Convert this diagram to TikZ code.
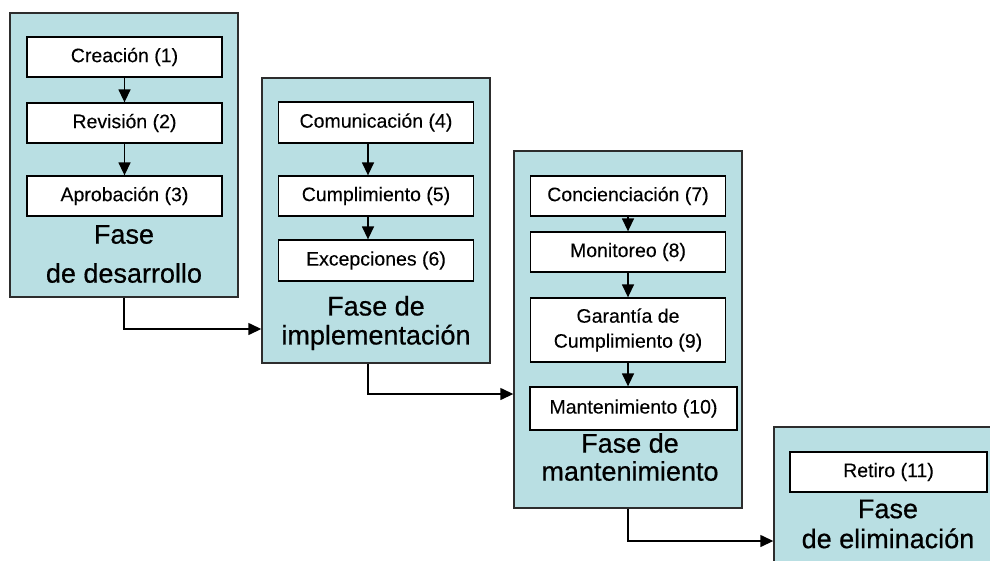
\documentclass[tikz,border=0pt]{standalone}
\usepackage{fontspec}
\setmainfont{Liberation Sans}
\newfontfamily\heavyfont{Liberation Sans}[FakeBold=0.6]
\newfontfamily\stepfont{Liberation Sans}[FakeBold=0.15]
\usetikzlibrary{arrows.meta}
\definecolor{phasefill}{RGB}{185,223,227}
\definecolor{phaseline}{RGB}{45,45,45}
\tikzset{
  phase/.style={draw=phaseline, line width=1.4pt, fill=phasefill, inner sep=0pt},
  stepbox/.style={draw=black, line width=1.3pt, fill=white, inner sep=0pt,
    minimum width=195pt, minimum height=40pt, align=center,
    font=\stepfont\fontsize{19.5}{24}\selectfont},
  title/.style={align=center, inner sep=0pt},
  arr/.style={draw=black, line width=1.4pt, -{Triangle[length=13pt,width=12pt]}},
  link/.style={draw=black, line width=1.4pt, -{Triangle[length=13pt,width=12pt]}}
}
\begin{document}
\begin{tikzpicture}[x=1pt,y=-1pt]
\useasboundingbox (0,0) rectangle (990,560);
% phases
\node[phase, minimum width=228pt, minimum height=284pt] (p1) at (124,155) {};
\node[phase, minimum width=228pt, minimum height=285pt] (p2) at (376,220.5) {};
\node[phase, minimum width=228pt, minimum height=357pt] (p3) at (628,329.5) {};
\node[phase, minimum width=228pt, minimum height=170pt] (p4) at (888,512) {};
% steps
\node[stepbox] (c1) at (124.5,57) {Creación (1)};
\node[stepbox] (c2) at (124.5,123) {Revisión (2)};
\node[stepbox] (c3) at (124.5,196) {Aprobación (3)};
\node[stepbox, minimum height=41pt] (c4) at (376,122.5) {Comunicación (4)};
\node[stepbox] (c5) at (376,196) {Cumplimiento (5)};
\node[stepbox, minimum height=41pt] (c6) at (376,260.5) {Excepciones (6)};
\node[stepbox] (c7) at (628,196) {Concienciación (7)};
\node[stepbox] (c8) at (628,252) {Monitoreo (8)};
\node[stepbox, minimum height=64pt, font=\stepfont\fontsize{19.5}{25}\selectfont] (c9) at (628,330) {Garantía de\\Cumplimiento (9)};
\node[stepbox, minimum width=207pt, minimum height=43pt] (c10) at (633.5,408.5) {Mantenimiento (10)};
\node[stepbox, minimum width=197pt] (c11) at (888.5,472) {Retiro (11)};
% titles
\node[title, font=\heavyfont\fontsize{27}{39}\selectfont] (t1) at (124,254) {Fase\\de desarrollo};
\node[title, font=\heavyfont\fontsize{27}{29}\selectfont] (t2) at (376,323) {Fase de\\implementación};
\node[title, font=\heavyfont\fontsize{27}{28}\selectfont] (t3) at (630,457) {Fase de\\mantenimiento};
\node[title, font=\heavyfont\fontsize{27}{30}\selectfont] (t4) at (888,524) {Fase\\de eliminación};
% inner arrows
\coordinate (ax2) at (368,0);
\draw[arr] (c1.south) -- (c2.north);
\draw[arr] (c2.south) -- (c3.north);
\draw[arr] (c4.south -| ax2) -- (c5.north -| ax2);
\draw[arr] (c5.south -| ax2) -- (c6.north -| ax2);
\draw[arr] (c7.south) -- (c8.north);
\draw[arr] (c8.south) -- (c9.north);
\draw[arr] (c9.south) -- (c10.north -| c9.south);
% links between phases
\coordinate (k1) at (0,329);
\coordinate (k2) at (0,394);
\coordinate (k3) at (0,541);
\draw[link] (p1.south) |- (k1 -| p2.west);
\draw[link] (p2.south -| ax2) |- (k2 -| p3.west);
\draw[link] (p3.south) |- (k3 -| p4.west);
\end{tikzpicture}
\end{document}
